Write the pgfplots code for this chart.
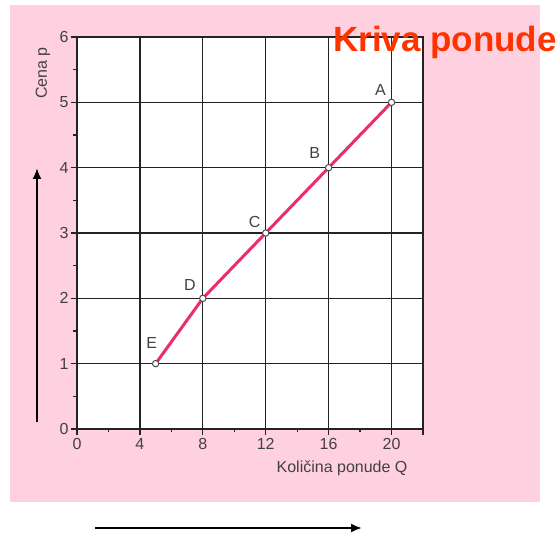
\documentclass[border=0pt]{standalone}
\usepackage{pgfplots}
\pgfplotsset{compat=1.18}
\usepackage{fontspec}
\setmainfont{Liberation Sans}
\usetikzlibrary{arrows.meta}
\definecolor{bgpink}{RGB}{255,208,224}
\definecolor{curve}{RGB}{235,45,105}
\definecolor{titlec}{RGB}{255,51,0}
\definecolor{gridc}{RGB}{35,35,35}
\definecolor{labc}{RGB}{65,65,65}
\begin{document}
\begin{tikzpicture}
\path[use as bounding box] (0,0) rectangle (560pt,538pt);
\fill[bgpink] (10pt,36pt) rectangle (540pt,533pt);
\begin{axis}[
  at={(77pt,109pt)}, anchor=south west,
  scale only axis, width=346pt, height=392pt,
  xmin=0, xmax=22, ymin=0, ymax=6,
  xtick={0,4,8,12,16,20,22}, xticklabels={0,4,8,12,16,20,},
  minor xtick={2,6,10,14,18},
  ytick={0,1,2,3,4,5,6},
  minor ytick={0.5,1.5,2.5,3.5,4.5,5.5},
  grid=major,
  tick align=outside, xtick pos=bottom, ytick pos=left,
  major tick length=6pt, minor tick length=3.5pt,
  axis line style={draw=gridc, line width=1.3pt},
  major grid style={draw=gridc, line width=1.3pt},
  every tick/.style={gridc, line width=1.2pt},
  tick label style={font=\fontsize{16}{19}\selectfont, text=labc},
  yticklabel style={xshift=1pt},
  /pgf/number format/assume math mode=true,
  axis background/.style={fill=white},
  xlabel={Količina ponude Q},
  ylabel={Cena p},
  xlabel style={at={(rel axis cs:0.766,-0.0995)}, anchor=center, font=\fontsize{16}{19}\selectfont, text=labc},
  ylabel style={at={(rel axis cs:-0.0983,0.908)}, anchor=center, font=\fontsize{16}{19}\selectfont, text=labc},
  clip=false,
]
\addplot[color=curve, line width=3pt, mark=*, mark size=3.2pt,
  mark options={fill=white, draw=black!70, line width=1pt}]
  coordinates {(5,1) (8,2) (12,3) (16,4) (20,5)};
\node[font=\fontsize{16}{19}\selectfont, text=labc] at (axis cs:20,5) [xshift=-11pt, yshift=12pt] {A};
\node[font=\fontsize{16}{19}\selectfont, text=labc] at (axis cs:16,4) [xshift=-14pt, yshift=15pt] {B};
\node[font=\fontsize{16}{19}\selectfont, text=labc] at (axis cs:12,3) [xshift=-11pt, yshift=11pt] {C};
\node[font=\fontsize{16}{19}\selectfont, text=labc] at (axis cs:8,2) [xshift=-13pt, yshift=13pt] {D};
\node[font=\fontsize{16}{19}\selectfont, text=labc] at (axis cs:5,1) [xshift=-4pt, yshift=21pt] {E};
\end{axis}
\draw[line width=2pt, -{Latex[length=11pt,width=9pt]}] (37pt,116pt) -- (37pt,370pt);
\draw[line width=2pt, -{Latex[length=11pt,width=9pt]}] (95pt,10pt) -- (362pt,10pt);
\node[anchor=base, font=\fontsize{35}{40}\selectfont\bfseries, text=titlec] at (445pt,486pt) {Kriva ponude};
\end{tikzpicture}
\end{document}
